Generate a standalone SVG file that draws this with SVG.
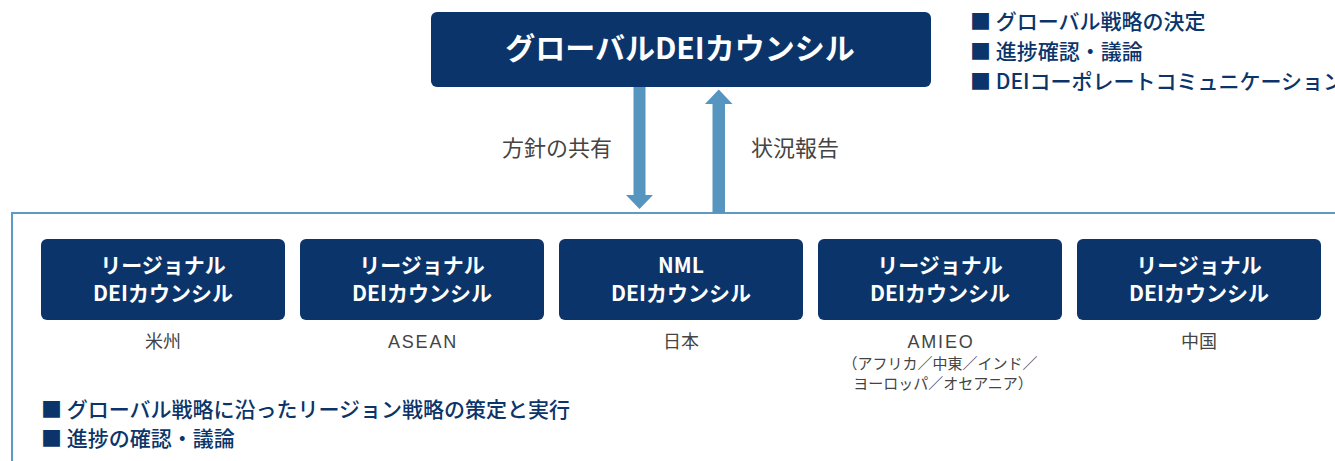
<svg xmlns="http://www.w3.org/2000/svg" width="1335" height="461" viewBox="0 0 1335 461">
<style>
.box{fill:#0b356a}
.t{font-family:"Noto Sans CJK JP","Liberation Sans",sans-serif}
.wt{fill:#fff;font-weight:700;text-anchor:middle;font-size:21px}
.lbl{fill:#444;font-size:18px;text-anchor:middle}
.lat{font-family:"Liberation Sans","Noto Sans CJK JP",sans-serif;letter-spacing:1.8px}
.sub{fill:#444;font-size:15px;text-anchor:middle}
.arr{fill:#5595c0}
.bul{fill:#0b356a;font-size:21px;font-weight:500}
.al{fill:#444;font-size:22px}
</style>
<rect x="12" y="213" width="1400" height="300" fill="none" stroke="#5b9bc5" stroke-width="2"/>
<g id="global">
<rect class="box" x="431" y="12" width="500" height="75" rx="6"/>
<text class="t wt" x="680" y="59" font-size="30" style="font-size:30px">グローバルDEIカウンシル</text>
</g>
<g id="global-notes" class="t bul">
<text x="970" y="29">■ グローバル戦略の決定</text>
<text x="970" y="59">■ 進捗確認・議論</text>
<text x="970" y="89">■ DEIコーポレートコミュニケーション</text>
</g>
<g id="connectors">
<polygon class="arr" points="633.5,87 645.5,87 645.5,195 653,195 639.5,209 626,195 633.5,195"/>
<polygon class="arr" points="712.5,213 725,213 725,104 732.5,104 718.75,89.5 705,104 712.5,104"/>
<text class="t al" x="502" y="156">方針の共有</text>
<text class="t al" x="751" y="156">状況報告</text>
</g>
<g id="us">
<rect class="box" x="41" y="239" width="244" height="81" rx="6"/>
<text class="t wt" x="163" y="273">リージョナル</text>
<text class="t wt" x="163" y="301">DEIカウンシル</text>
<text class="t lbl" x="163" y="348">米州</text>
</g>
<g id="asean">
<rect class="box" x="300" y="239" width="244" height="81" rx="6"/>
<text class="t wt" x="422" y="273">リージョナル</text>
<text class="t wt" x="422" y="301">DEIカウンシル</text>
<text class="t lbl lat" x="423" y="348">ASEAN</text>
</g>
<g id="japan">
<rect class="box" x="559" y="239" width="244" height="81" rx="6"/>
<text class="t wt" x="681" y="273">NML</text>
<text class="t wt" x="681" y="301">DEIカウンシル</text>
<text class="t lbl" x="681" y="348">日本</text>
</g>
<g id="amieo">
<rect class="box" x="818" y="239" width="244" height="81" rx="6"/>
<text class="t wt" x="940" y="273">リージョナル</text>
<text class="t wt" x="940" y="301">DEIカウンシル</text>
<text class="t lbl lat" x="941" y="348">AMIEO</text>
<text class="t sub" x="940" y="369">（アフリカ／中東／インド／</text>
<text class="t sub" x="943" y="389">ヨーロッパ／オセアニア）</text>
</g>
<g id="china">
<rect class="box" x="1077" y="239" width="244" height="81" rx="6"/>
<text class="t wt" x="1199" y="273">リージョナル</text>
<text class="t wt" x="1199" y="301">DEIカウンシル</text>
<text class="t lbl" x="1199" y="348">中国</text>
</g>
<g id="regional-notes" class="t bul">
<text x="41" y="417">■ グローバル戦略に沿ったリージョン戦略の策定と実行</text>
<text x="41" y="446">■ 進捗の確認・議論</text>
</g>
</svg>
